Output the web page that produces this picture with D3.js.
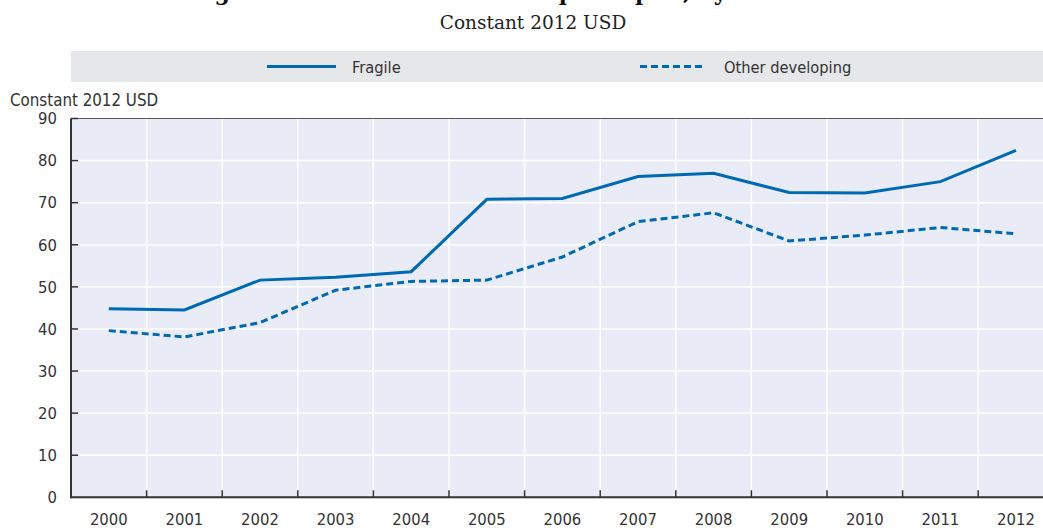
<!DOCTYPE html>
<html>
<head>
<meta charset="utf-8">
<script src="https://cdn.jsdelivr.net/npm/d3@7"></script>
<style>
  body { margin: 0; background: #fff; }
  svg { display: block; }
  .sans { font-family: "DejaVu Sans Condensed", "Liberation Sans Narrow", "Roboto", sans-serif; fill: #333; }
</style>
</head>
<body>
<svg id="chart" width="1043" height="528"></svg>
<script>
// Series: per-capita amounts, constant 2012 USD
const years = ["2000", "2001", "2002", "2003", "2004", "2005", "2006",
               "2007", "2008", "2009", "2010", "2011", "2012"];
const fragile = [44.8, 44.5, 51.6, 52.3, 53.6, 70.8, 71.0, 76.2, 77.0, 72.4, 72.3, 75.0, 82.4];
const otherDeveloping = [39.6, 38.1, 41.5, 49.2, 51.3, 51.6, 57.1, 65.5, 67.6, 60.9, 62.3, 64.1, 62.6];
const yTicks = [0, 10, 20, 30, 40, 50, 60, 70, 80, 90];
const seriesNames = ["Fragile", "Other developing"];

const svg = d3.select("#chart");
const W = 1043;
const plotLeft = 71, plotTop = 118.5, plotBottom = 497.3, step = 75.6;
const plotRight = plotLeft + step * years.length;

const x = d3.scaleBand().domain(years).range([plotLeft, plotRight]).padding(0);
const y = d3.scaleLinear().domain([0, 90]).range([plotBottom, plotTop]);
const cx = d => x(d) + x.bandwidth() / 2;

const blue = "#0069b4";

// Title (runs off the top edge) and subtitle
svg.append("text")
  .attr("x", 500).attr("y", 0)
  .attr("text-anchor", "middle")
  .style("font-family", "'DejaVu Serif', serif")
  .style("font-weight", "bold")
  .style("font-size", "22px")
  .style("fill", "#111")
  .text("Figure 2.2. Net ODA received per capita, by status");

svg.append("text")
  .attr("x", 533).attr("y", 29)
  .attr("text-anchor", "middle")
  .style("font-family", "'DejaVu Serif', serif")
  .style("font-size", "18.5px")
  .style("fill", "#222")
  .text("Constant 2012 USD");

// Legend strip
svg.append("rect")
  .attr("x", plotLeft).attr("y", 51)
  .attr("width", W - plotLeft).attr("height", 31)
  .attr("fill", "#e6e7e9");

const legendItems = [
  { name: seriesNames[0], x1: 267, x2: 336, tx: 352, dash: null },
  { name: seriesNames[1], x1: 640, x2: 704, tx: 724, dash: "7,4" }
];
legendItems.forEach(it => {
  svg.append("line")
    .attr("x1", it.x1).attr("x2", it.x2)
    .attr("y1", 66.5).attr("y2", 66.5)
    .attr("stroke", blue).attr("stroke-width", 3)
    .attr("stroke-dasharray", it.dash);
  svg.append("text")
    .attr("class", "sans")
    .attr("x", it.tx).attr("y", 72.5)
    .style("font-size", "16.3px")
    .text(it.name);
});

// Plot background
svg.append("rect")
  .attr("x", plotLeft).attr("y", plotTop)
  .attr("width", plotRight - plotLeft).attr("height", plotBottom - plotTop)
  .attr("fill", "#e9ecf6");

// Horizontal gridlines
svg.append("g")
  .selectAll("line")
  .data(yTicks.filter(t => t > 0 && t < 90))
  .join("line")
  .attr("x1", plotLeft).attr("x2", plotRight)
  .attr("y1", d => y(d)).attr("y2", d => y(d))
  .attr("stroke", "#fff").attr("stroke-width", 1.5);

// Vertical gridlines at band boundaries
const boundaries = years.slice(1).map(d => x(d));
svg.append("g")
  .selectAll("line")
  .data(boundaries)
  .join("line")
  .attr("x1", d => d).attr("x2", d => d)
  .attr("y1", plotTop).attr("y2", plotBottom)
  .attr("stroke", "#fff").attr("stroke-width", 1.5);

// Top border
svg.append("line")
  .attr("x1", plotLeft).attr("x2", plotRight)
  .attr("y1", plotTop).attr("y2", plotTop)
  .attr("stroke", "#555").attr("stroke-width", 1);

// Lines
const line = d3.line()
  .x((d, i) => cx(years[i]))
  .y(d => y(d));

svg.append("path")
  .datum(otherDeveloping)
  .attr("d", line)
  .attr("fill", "none")
  .attr("stroke", blue)
  .attr("stroke-width", 3)
  .attr("stroke-dasharray", "7,4");

svg.append("path")
  .datum(fragile)
  .attr("d", line)
  .attr("fill", "none")
  .attr("stroke", blue)
  .attr("stroke-width", 3);

// Y axis
const yAxis = svg.append("g")
  .attr("transform", `translate(${plotLeft},0)`)
  .call(d3.axisLeft(y).tickValues(yTicks).tickSize(0).tickPadding(14));
yAxis.select(".domain").remove();
yAxis.selectAll("text")
  .style("font-size", "16.5px")
  .style("font-family", "'DejaVu Sans Condensed', 'Liberation Sans Narrow', sans-serif")
  .attr("fill", "#333");

// Inner ticks on the y axis
svg.append("g")
  .selectAll("line")
  .data(yTicks.filter(t => t > 0))
  .join("line")
  .attr("x1", plotLeft).attr("x2", plotLeft + 7)
  .attr("y1", d => y(d)).attr("y2", d => y(d))
  .attr("stroke", "#333").attr("stroke-width", 1.5);

// X axis labels
const xAxis = svg.append("g")
  .attr("transform", `translate(0,${plotBottom})`)
  .call(d3.axisBottom(x).tickSize(0).tickPadding(16));
xAxis.select(".domain").remove();
xAxis.selectAll("text")
  .style("font-size", "16.5px")
  .style("font-family", "'DejaVu Sans Condensed', 'Liberation Sans Narrow', sans-serif")
  .attr("fill", "#333");

// Inner ticks on the x axis at band boundaries
svg.append("g")
  .selectAll("line")
  .data(boundaries)
  .join("line")
  .attr("x1", d => d).attr("x2", d => d)
  .attr("y1", plotBottom).attr("y2", plotBottom - 7)
  .attr("stroke", "#333").attr("stroke-width", 1.5);

// Axis lines
svg.append("line")
  .attr("x1", plotLeft).attr("x2", plotRight)
  .attr("y1", plotBottom).attr("y2", plotBottom)
  .attr("stroke", "#333").attr("stroke-width", 2);
svg.append("line")
  .attr("x1", plotLeft).attr("x2", plotLeft)
  .attr("y1", plotTop).attr("y2", plotBottom + 1)
  .attr("stroke", "#333").attr("stroke-width", 2);

// Y axis title
svg.append("text")
  .attr("class", "sans")
  .attr("x", 10).attr("y", 106)
  .style("font-size", "16.8px")
  .text("Constant 2012 USD");
</script>
</body>
</html>
